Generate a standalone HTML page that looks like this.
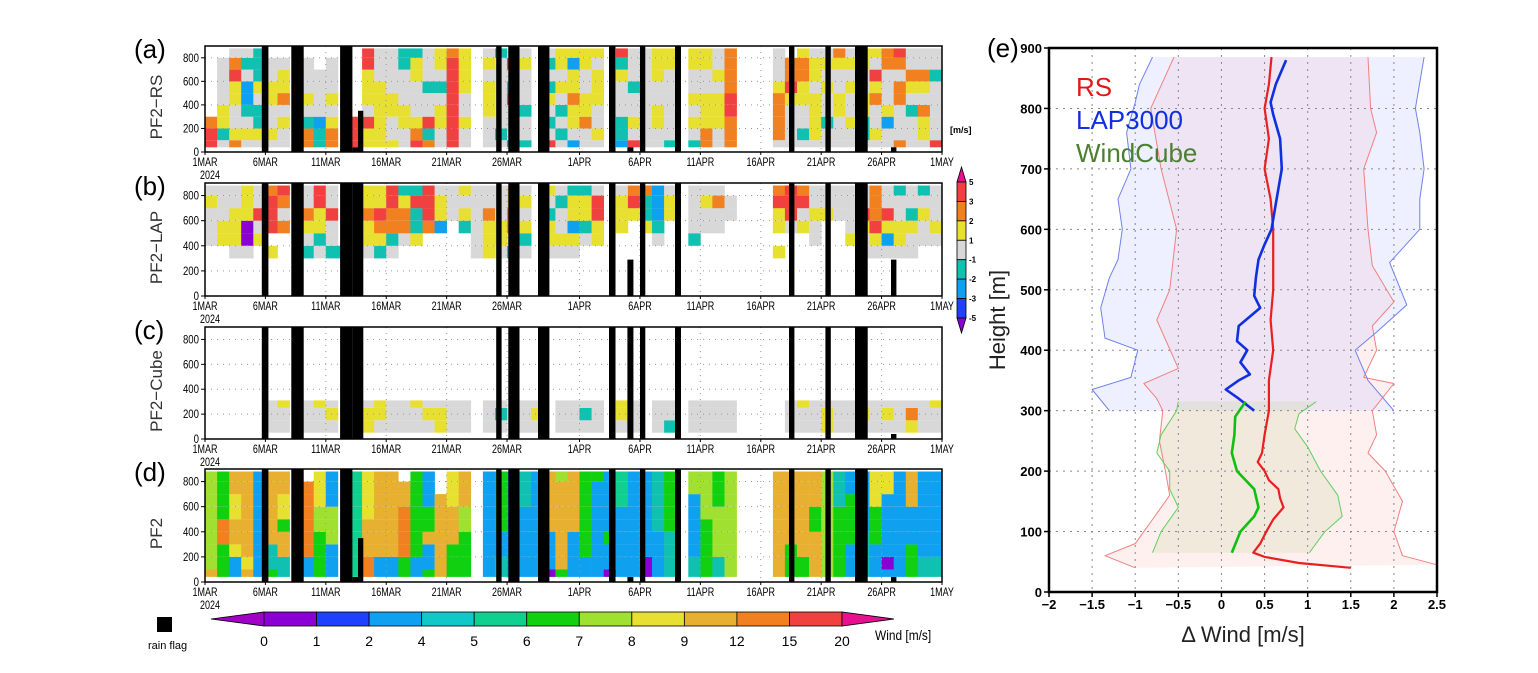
<!DOCTYPE html>
<html><head><meta charset="utf-8"><style>
html,body{margin:0;padding:0;background:#fff;}
svg{display:block;font-family:"Liberation Sans",sans-serif;}
</style></head><body>
<svg id="fig" width="1538" height="673" viewBox="0 0 1538 673" xmlns="http://www.w3.org/2000/svg"></svg>
<script>
// ---------- DATA ----------
const tickDays=[0,5,10,15,20,25,31,36,41,46,51,56,61];
const tickLabels=["1MAR","6MAR","11MAR","16MAR","21MAR","26MAR","1APR","6APR","11APR","16APR","21APR","26APR","1MAY"];
const heightTicks=[0,200,400,600,800];
// rain flags: start day, end day, top height in panels a,b,c,d
const flags=[[4.7,5.25,900,900,900,900],[7.14,8.17,900,900,900,900],[11.18,12.2,900,900,900,900],[12.2,12.66,40,900,900,40],[12.66,13.1,350,900,900,350],[24.1,24.55,900,900,900,900],[25.1,26.03,900,900,900,900],[27.56,28.5,900,900,900,900],[33.44,33.98,900,900,900,900],[34.96,35.46,40,290,900,40],[36.0,36.44,900,900,900,900],[38.9,39.4,900,900,900,900],[48.34,48.79,900,900,900,900],[51.35,51.8,900,900,900,900],[53.8,54.85,900,900,900,900],[56.78,57.23,40,290,40,40]];
// per-day cells, 100 m bins bottom->top
const panelA=['rro......','gcyygggg.','oyggyyrog','gygcbbgcg','gyccgyccc','gyggyygg.','ggygoyyg.','.........','oocgyggg.','ccbgggg..','ooygyggg.','.........','rrr......','yyrgyyyrr','yyyyyyggg','yggyygggg','ggyygggcc','roygggyyc','ocrggcggg','ggyygcgyy','rrrrrrrro','ggyggyyyy','.........','gggyyygyg','gcggggggc','bgggrcgrg','cggcgggyg','.........','rgcgycgcg','gcgcgygyy','bgyyoyyby','ggoyyggyy','gyggyyygy','.........','bccgggycr','rgyggcggg','ggggggggg','ggyyggyyy','cggggggyy','.........','cgygyggyy','ooyyyggyy','ggyyygygg','ooorroooo','.........','.........','.........','gooooyggg','ggggyroo.','gcggyyooy','gyyyygyyg','ggcggygyg','gggyyggyo','ggyggygyg','gccyyggyy','gyggoyrgy','ggbygggoo','ogggoogor','gggcgyogg','gyyogyogg','rgggggcgg'];
const panelB=['....gggyg','....yyggg','...gyyygg','...gvvyyy','....ygrgg','...y.rrro','.....ogor','.........','...cgyogg','...gcyyrr','...cggrgg','...c.....','.........','...gyyoyy','...cyoryy','...gcoorr','....gooyc','....yccrc','.....orrr','.....byyg','......ggg','.....cygy','...gggggg','...yyyogg','...gyyggg','...cgooyy','...gcygyg','.........','...gyycgy','...gyggcg','...gybyyc','....gcyyc','....yyrrg','.........','.....yyyg','......yro','.....ycco','....gcbbb','......yyg','.........','....cgggg','.....ggyg','.....ggog','......gg.','.........','.........','.........','...y.yyro','.....grrr','.....ygro','....ggygg','......ygg','......ggg','....ygggg','...ggyrgg','...gyrooo','...gbyrgg','...gyyggc','...ggycgg','....ggygc','....gyggg'];
const panelC=['...','...','...','...','...','ggg','ggy','...','ggg','ggy','gyg','...','...','yyg','gyy','ggg','ggg','ggy','gyg','yyg','ggg','ggg','...','ggg','gcg','...','ggg','gyg','...','ggg','ggg','gcg','ggg','...','gyy','ggg','...','ggg','cgg','...','ggg','ggg','ggg','ggg','...','...','...','...','ggg','ggy','ggg','yyg','ggg','ggg','gyg','ggg','gyg','ggg','yog','ggg','ggy'];
const panelD=['aLLLLLLLL','GGGooGGGG','llyaayyaa','ayaaaaaaa','lllllllll','Gccaaaaaa','ccaaGyyaa','.........','lloooooo.','GGGGLLyyy','lllLLLlll','.........','ttttttttt','ooaaayyyy','bbaaaaaaa','lbaaaaaaa','GGooooaa.','bbGGGGGGG','GbbaGGbbb','aaaaaaa..','GGGaaayyy','GGGGLLaaa','.........','lllllllll','ccllGGGGG','lllllllll','llllllccc','lllllllll','vbbbaaaaa','GaaaaaaaL','llllaaaaa','bbGGGGGGG','llllllllG','vbbGlllll','llllllttt','lllllllll','vvlllllll','llllccccc','ccccGGGGG','.........','cclllllLL','GGGGGLLLL','ccLLLLGGG','LLLLLLLLL','.........','.........','.........','aaaaaaaaa','GGGaaaaaa','GGaaaaaaa','aaaaGGaaa','LLLLLLLLL','GGGGGGccc','lllGGGGll','cccclllll','lllGGGyyy','bvbbbllyy','lllllllll','GGGlllaaa','cclllllll','cclllllll'];
// panel e profiles [height, value]
const rsMean=[[40,1.5],[48,0.9],[58,0.5],[65,0.37],[80,0.45],[100,0.52],[120,0.6],[140,0.72],[155,0.68],[170,0.66],[185,0.55],[200,0.5],[215,0.42],[230,0.47],[260,0.5],[300,0.55],[350,0.55],[400,0.6],[450,0.57],[500,0.6],[550,0.6],[600,0.6],[650,0.57],[700,0.5],[750,0.55],[800,0.5],[840,0.55],[885,0.58]];
const lapMean=[[300,0.38],[320,0.2],[335,0.05],[350,0.2],[360,0.33],[380,0.22],[400,0.3],[415,0.18],[440,0.2],[470,0.45],[490,0.38],[520,0.4],[550,0.43],[575,0.5],[600,0.58],[650,0.64],[700,0.7],[750,0.68],[790,0.6],[810,0.57],[840,0.63],[880,0.75]];
const cubeMean=[[65,0.12],[100,0.22],[125,0.38],[140,0.43],[170,0.38],[200,0.18],[230,0.12],[260,0.15],[290,0.16],[315,0.28]];
const rsLow=[[40,-1.0],[60,-1.35],[80,-1.0],[120,-0.8],[160,-0.6],[200,-0.65],[250,-0.72],[300,-0.68],[320,-0.75],[345,-0.9],[370,-0.5],[450,-0.75],[500,-0.6],[600,-0.52],[700,-0.7],[800,-0.82],[885,-0.55]];
const rsHigh=[[45,2.5],[60,2.1],[100,2.0],[150,2.1],[200,1.9],[230,1.7],[260,1.8],[300,1.75],[345,2.0],[355,1.65],[400,1.8],[440,1.75],[480,2.0],[540,1.75],[600,1.7],[700,1.65],[760,1.8],[800,1.73],[885,1.7]];
const lapLow=[[300,-1.3],[335,-1.5],[355,-1.05],[400,-0.97],[420,-1.35],[470,-1.4],[520,-1.3],[550,-1.2],[600,-1.15],[650,-1.2],[700,-1.05],[760,-1.1],[810,-1.0],[840,-0.95],[885,-0.8]];
const lapHigh=[[300,2.0],[350,1.7],[400,1.55],[430,1.8],[475,2.15],[510,2.05],[545,1.95],[600,2.3],[650,2.3],[700,2.35],[760,2.3],[800,2.25],[885,2.35]];
const cubeLow=[[65,-0.8],[100,-0.7],[140,-0.5],[170,-0.6],[200,-0.6],[230,-0.75],[260,-0.7],[300,-0.52],[315,-0.5]];
const cubeHigh=[[65,1.02],[100,1.2],[125,1.4],[160,1.35],[200,1.15],[240,1.0],[270,0.85],[295,0.9],[315,1.1]];
const windBins=["0","1","2","4","5","6","7","8","9","12","15","20"];
const diffLabels=["5","3","2","1","-1","-2","-3","-5"];

// ---------- RENDER ----------
const NS="http://www.w3.org/2000/svg";
const svg=document.getElementById('fig');
function mk(tag,attrs,parent){const e=document.createElementNS(NS,tag);for(const k in attrs)e.setAttribute(k,attrs[k]);(parent||svg).appendChild(e);return e;}
const colMap={g:'#d8d8d8',y:'#e8e030',o:'#f08020',r:'#f04040',c:'#10c0b0',b:'#10a0f0',v:'#8a00d4',l:'#10a0f0',t:'#10d090',G:'#10d010',L:'#a0e030',a:'#e8b030'};
const X0=205,X1=942,dayW=(X1-X0)/61;
const panels=[{id:'a',top:46,bot:152,title:'PF2\u2212RS',data:panelA,fi:2,base:40},{id:'b',top:183,bot:296,title:'PF2\u2212LAP',data:panelB,fi:3,base:40},{id:'c',top:327,bot:439,title:'PF2\u2212Cube',data:panelC,fi:4,base:50},{id:'d',top:469,bot:582,title:'PF2',data:panelD,fi:5,base:40}];
panels.forEach(p=>{
  const g=mk('g',{});
  
  
  const yS=h=>p.bot-h*(p.bot-p.top)/900;
  const xS=d=>X0+d*dayW;
  p.data.forEach((s,d)=>{
    for(let i=0;i<s.length;i++){
      const ch=s[i]; if(ch==='.')continue;
      let h0=i*100,h1=(i+1)*100;
      if(p.id==='c'){h0=i===0?50:i*100+50;h1=i===2?310:(i+1)*100+50;}
      else{if(i===0)h0=p.base;if(i===8)h1=880;}
      const r=mk('rect',{x:xS(d).toFixed(1),y:yS(h1).toFixed(1),width:(dayW+0.3).toFixed(1),height:(yS(h0)-yS(h1)).toFixed(1),fill:colMap[ch]},g);
      
      
    }
  });
  heightTicks.slice(1).forEach(h=>{mk('line',{x1:X0,x2:X1,y1:yS(h),y2:yS(h),stroke:'#999','stroke-width':1,'stroke-dasharray':'1,5'},g);});
  tickDays.slice(1,-1).forEach(d=>{mk('line',{x1:xS(d),x2:xS(d),y1:p.top,y2:p.bot,stroke:'#999','stroke-width':1,'stroke-dasharray':'1,5'},g);});
  flags.forEach(f=>{const r=mk('rect',{x:xS(f[0]).toFixed(1),y:yS(f[p.fi]).toFixed(1),width:((f[1]-f[0])*dayW).toFixed(1),height:(p.bot-yS(f[p.fi])).toFixed(1),fill:'#000'},g);
    
    });
  mk('rect',{x:X0,y:p.top,width:X1-X0,height:p.bot-p.top,fill:'none',stroke:'#000','stroke-width':1.5},g);
  heightTicks.forEach(h=>{mk('line',{x1:X0-4,x2:X0,y1:yS(h),y2:yS(h),stroke:'#000'},g);
    const t=mk('text',{x:X0-6,y:yS(h)+4,'font-size':12,'text-anchor':'end',transform:`translate(${X0-6},0) scale(0.8,1) translate(${-(X0-6)},0)`},g);t.textContent=h;});
  tickDays.forEach((d,i)=>{mk('line',{x1:xS(d),x2:xS(d),y1:p.bot,y2:p.bot+3,stroke:'#000'},g);
    const t=mk('text',{x:xS(d),y:p.bot+14,'font-size':12,'text-anchor':'middle',transform:`translate(${xS(d)},0) scale(0.75,1) translate(${-xS(d)},0)`},g);t.textContent=tickLabels[i];
    
    });
  const yr=mk('text',{x:X0-5,y:p.bot+27,'font-size':12,transform:`translate(${X0-5},0) scale(0.75,1) translate(${-(X0-5)},0)`},g);yr.textContent='2024';
  const lab=mk('text',{x:134,y:p.top+12,'font-size':26},g);lab.textContent='('+p.id+')';
  
  
  const cy=(p.top+p.bot)/2+8;
  const yt=mk('text',{x:162,y:cy,'font-size':17,'text-anchor':'middle',fill:'#333',transform:`rotate(-90 162 ${cy})`},g);yt.textContent=p.title;
  
  
});
(function(){
  const g=mk('g',{});
  
  
  const cols=['#f04040','#f08020','#e8e030','#d8d8d8','#10c0b0','#10a0f0','#2040ff'];
  const x=957,w=9,top=182,bh=(318-182)/7;
  mk('polygon',{points:`${x},${top} ${x+w},${top} ${x+w/2},167`,fill:'#e81090',stroke:'#000','stroke-width':0.8},g);
  cols.forEach((c,i)=>mk('rect',{x:x,y:top+i*bh,width:w,height:bh,fill:c,stroke:'#000','stroke-width':0.8},g));
  mk('polygon',{points:`${x},318 ${x+w},318 ${x+w/2},333`,fill:'#8a00d4',stroke:'#000','stroke-width':0.8},g);
  diffLabels.forEach((l,i)=>{const t=mk('text',{x:x+w+3,y:top+i*bh+3,'font-size':8,'font-weight':'bold'},g);t.textContent=l;});
  const u=mk('text',{x:950,y:133,'font-size':9,'font-weight':'bold'},g);u.textContent='[m/s]';
})();
(function(){
  const g=mk('g',{});
  
  
  const cols=['#8a00d4','#2040ff','#10a0f0','#10c8c8','#10d090','#10d010','#a0e030','#e8e030','#e8b030','#f08020','#f04040'];
  const x0=264,bw=(842-264)/11,y0=612,y1=626;
  mk('polygon',{points:`211,${(y0+y1)/2} ${x0},${y0} ${x0},${y1}`,fill:'#a000c8',stroke:'#000','stroke-width':0.8},g);
  cols.forEach((c,i)=>mk('rect',{x:x0+i*bw,y:y0,width:bw,height:y1-y0,fill:c,stroke:'#000','stroke-width':0.8},g));
  mk('polygon',{points:`842,${y0} 842,${y1} 894,${(y0+y1)/2}`,fill:'#e81090',stroke:'#000','stroke-width':0.8},g);
  windBins.forEach((l,i)=>{const t=mk('text',{x:x0+i*bw,y:646,'font-size':14,'text-anchor':'middle'},g);t.textContent=l;});
  const wt=mk('text',{x:875,y:640,'font-size':14,transform:'translate(875,0) scale(0.85,1) translate(-875,0)'},g);wt.textContent='Wind [m/s]';
  mk('rect',{x:157,y:617,width:15,height:15,fill:'#000'},g);
  const rf=mk('text',{x:148,y:649,'font-size':11},g);rf.textContent='rain flag';
})();
(function(){
  const g=mk('g',{});
  
  
  const L=1049,R=1437,T=48,B=592;
  const xS=v=>L+(v+2)*(R-L)/4.5;
  const yS=h=>B-h*(B-T)/900;
  const band=(lo,hi,fill)=>{const pts=lo.map(p=>xS(p[1]).toFixed(1)+','+yS(p[0]).toFixed(1)).concat(hi.slice().reverse().map(p=>xS(p[1]).toFixed(1)+','+yS(p[0]).toFixed(1)));mk('polygon',{points:pts.join(' '),fill:fill},g);};
  band(rsLow,rsHigh,'rgba(255,170,170,0.18)');
  band(lapLow,lapHigh,'rgba(170,180,255,0.2)');
  band(cubeLow,cubeHigh,'rgba(190,210,150,0.22)');
  for(let v=-1.5;v<2.5;v+=0.5)mk('line',{x1:xS(v),x2:xS(v),y1:T,y2:B,stroke:'#888','stroke-dasharray':'2,5'},g);
  for(let h=100;h<900;h+=100)mk('line',{x1:L,x2:R,y1:yS(h),y2:yS(h),stroke:'#888','stroke-dasharray':'2,5'},g);
  const line=(arr,stroke,w,name)=>{const p=mk('polyline',{points:arr.map(p=>xS(p[1]).toFixed(1)+','+yS(p[0]).toFixed(1)).join(' '),fill:'none',stroke:stroke,'stroke-width':w,'stroke-linejoin':'round'},g);
    
    };
  line(rsLow,'#f08080',1,'rs-lower-bound');line(rsHigh,'#f08080',1,'rs-upper-bound');
  line(lapLow,'#7080f0',1,'lap-lower-bound');line(lapHigh,'#7080f0',1,'lap-upper-bound');
  line(cubeLow,'#60d060',1,'cube-lower-bound');line(cubeHigh,'#60d060',1,'cube-upper-bound');
  line(rsMean,'#e82020',2.2,'rs-mean-line');line(lapMean,'#1030e0',2.6,'lap-mean-line');line(cubeMean,'#10c010',2.6,'cube-mean-line');
  mk('rect',{x:L,y:T,width:R-L,height:B-T,fill:'none',stroke:'#000','stroke-width':2.5},g);
  for(let h=0;h<=900;h+=100){mk('line',{x1:L-5,x2:L,y1:yS(h),y2:yS(h),stroke:'#000','stroke-width':1.5},g);
    const t=mk('text',{x:L-7,y:yS(h)+5,'font-size':13,'font-weight':'bold','text-anchor':'end'},g);t.textContent=h;}
  ["-2","-1.5","-1","-0.5","0","0.5","1","1.5","2","2.5"].forEach((l,i)=>{const v=-2+i*0.5;mk('line',{x1:xS(v),x2:xS(v),y1:B,y2:B+5,stroke:'#000','stroke-width':1.5},g);
    const t=mk('text',{x:xS(v),y:B+17,'font-size':13,'font-weight':'bold','text-anchor':'middle'},g);t.textContent=l.replace('-','\u2212');});
  const el=mk('text',{x:987,y:57,'font-size':26},g);el.textContent='(e)';
  const yt=mk('text',{x:1005,y:320,'font-size':22,'text-anchor':'middle',fill:'#222',transform:'rotate(-90 1005 320)'},g);yt.textContent='Height [m]';
  
  
  const xt=mk('text',{x:1243,y:642,'font-size':22,'text-anchor':'middle',fill:'#222'},g);xt.textContent='\u0394 Wind [m/s]';
  
  
  [['RS','#e01818',96],['LAP3000','#1030e0',129],['WindCube','#4a8030',162]].forEach(e=>{const t=mk('text',{x:1076,y:e[2],'font-size':26,fill:e[1]},g);t.textContent=e[0];
    
    });
})();
</script>
</body></html>
